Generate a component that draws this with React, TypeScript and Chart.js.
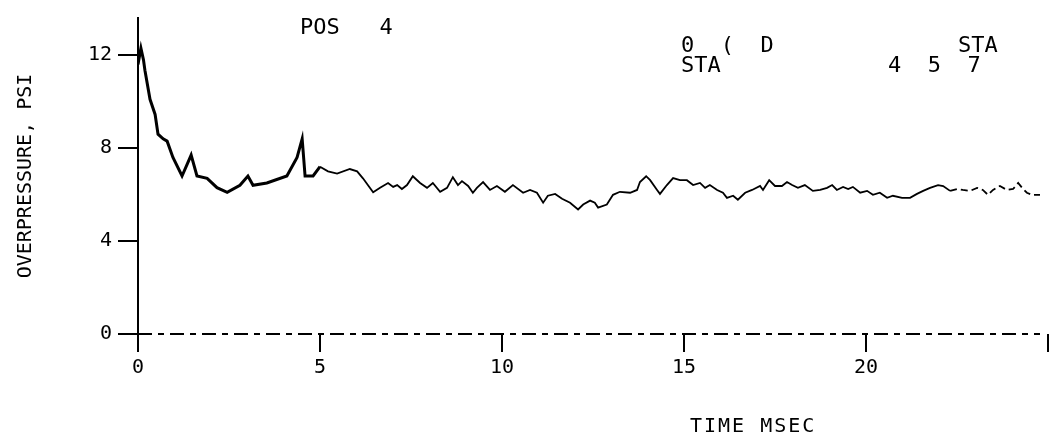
import React, { useEffect, useRef } from "react";
import { Chart, registerables } from "chart.js";

Chart.register(...registerables);

// Time (msec) of each sampled point of the trace
const timeMs = [
  0, 0.08, 0.15, 0.19, 0.33, 0.47, 0.55, 0.69, 0.8, 0.96,
  1.21, 1.46, 1.62, 1.9, 2.17, 2.45, 2.8, 3.02, 3.16, 3.54,
  4.09, 4.37, 4.51, 4.59, 4.81, 5.0, 5.22, 5.47, 5.82, 6.02,
  6.18, 6.46,
  6.65, 6.87, 7.01, 7.12, 7.25, 7.39, 7.55, 7.75, 7.94, 8.1,
  8.3, 8.49, 8.65, 8.79, 8.9, 9.07, 9.2, 9.31, 9.48, 9.67,
  9.86, 10.08, 10.3, 10.58, 10.77, 10.96, 11.13, 11.26, 11.46, 11.65,
  11.87, 12.09, 12.23, 12.42, 12.55, 12.64, 12.88, 13.05, 13.24, 13.52,
  13.71, 13.79, 13.96, 14.07, 14.26, 14.34, 14.53, 14.7, 14.89, 15.08,
  15.25, 15.44, 15.58, 15.71, 15.91, 16.07,
  16.18, 16.35, 16.48, 16.68, 16.87, 17.09, 17.17, 17.34, 17.5, 17.69,
  17.83, 17.97, 18.13, 18.32, 18.54, 18.74, 18.93, 19.07, 19.2, 19.37,
  19.51, 19.64, 19.84, 20.03, 20.19, 20.38, 20.58, 20.74, 20.99, 21.21,
  21.4, 21.57, 21.76, 21.98, 22.12, 22.31, 22.5, 22.66, 22.86, 23.05,
  23.21, 23.35, 23.49, 23.68, 23.87, 24.04, 24.18, 24.29, 24.42, 24.56,
  24.78,
];

// Overpressure (psi) at each of those times
const overpressurePsi = [
  11.6, 12.3, 11.8, 11.35, 10.1, 9.45, 8.6, 8.4, 8.3, 7.6,
  6.8, 7.7, 6.8, 6.7, 6.3, 6.1, 6.4, 6.8, 6.4, 6.5,
  6.8, 7.6, 8.4, 6.8, 6.8, 7.2, 7.0, 6.9, 7.1, 7.0,
  6.7, 6.1,
  6.29, 6.5, 6.33, 6.41, 6.24, 6.41, 6.79, 6.5, 6.29, 6.5,
  6.12, 6.29, 6.75, 6.41, 6.58, 6.37, 6.08, 6.29, 6.54, 6.2,
  6.37, 6.12, 6.41, 6.08, 6.2, 6.08, 5.65, 5.95, 6.03, 5.82,
  5.65, 5.36, 5.57, 5.74, 5.65, 5.44, 5.57, 5.99, 6.12, 6.08,
  6.2, 6.54, 6.79, 6.62, 6.2, 6.03, 6.41, 6.71, 6.62, 6.62,
  6.41, 6.5, 6.29, 6.41, 6.2, 6.08,
  5.86, 5.95, 5.78, 6.08, 6.2, 6.37, 6.2, 6.62, 6.37, 6.37,
  6.54, 6.41, 6.29, 6.41, 6.16, 6.2, 6.29, 6.41, 6.2, 6.33,
  6.24, 6.33, 6.08, 6.16, 5.99, 6.08, 5.86, 5.95, 5.86, 5.86,
  6.03, 6.16, 6.29, 6.41, 6.37, 6.16, 6.24, 6.2, 6.16, 6.29,
  6.2, 5.99, 6.2, 6.37, 6.2, 6.24, 6.5, 6.29, 6.08, 5.99,
  5.99,
];

const xTickValues = [0, 5, 10, 15, 20, 25];
const xTickLabels = ["0", "5", "10", "15", "20", ""];
const yTickValues = [0, 4, 8, 12];
const yTickLabels = ["0", "4", "8", "12"];

const plotTitle = "POS   4";
const xAxisTitle = "TIME MSEC";
const yAxisTitle = "OVERPRESSURE, PSI";
const headerLeft = ["0  (  D", "STA"];
const headerRight = ["STA", "4  5  7"];

const FONT = "'DejaVu Sans Mono', monospace";

const textPlugin = {
  id: "plotterText",
  beforeDatasetsDraw(chart: any) {
    // dashed x axis line, as on the plotter original
    const { ctx, chartArea } = chart;
    ctx.save();
    ctx.strokeStyle = "#000";
    ctx.lineWidth = 2;
    ctx.setLineDash([14, 6, 6, 6]);
    ctx.beginPath();
    ctx.moveTo(chartArea.left, chartArea.bottom);
    ctx.lineTo(chartArea.right - 8, chartArea.bottom);
    ctx.stroke();
    ctx.restore();
  },
  afterDraw(chart: any) {
    const ctx = chart.ctx;
    ctx.save();
    ctx.fillStyle = "#000";
    ctx.textBaseline = "alphabetic";
    ctx.textAlign = "left";
    ctx.font = `22px ${FONT}`;
    ctx.fillText(plotTitle, 300, 34);
    ctx.fillText(headerLeft[0], 681, 52);
    ctx.fillText(headerLeft[1], 681, 72);
    ctx.fillText(headerRight[0], 958, 52);
    ctx.fillText(headerRight[1], 888, 72);
    ctx.font = `20px ${FONT}`;
    (ctx as any).letterSpacing = "2px";
    ctx.fillText(xAxisTitle, 690, 432);
    ctx.restore();
  },
};

export default function App() {
  const ref = useRef<HTMLCanvasElement>(null);

  useEffect(() => {
    const points = timeMs.map((t, i) => ({ x: t, y: overpressurePsi[i] }));
    const chart = new Chart(ref.current as HTMLCanvasElement, {
      type: "line",
      data: {
        datasets: [
          {
            data: points,
            borderColor: "#000",
            borderWidth: 2,
            pointRadius: 0,
            tension: 0,
            fill: false,
            segment: {
              borderWidth: (c: any) => (c.p0.parsed.x < 5 ? 3 : 1.8),
              borderDash: (c: any) => (c.p0.parsed.x > 22.2 ? [7, 4] : undefined),
            },
          } as any,
        ],
      },
      options: {
        responsive: false,
        animation: false,
        devicePixelRatio: 1,
        layout: { padding: { top: 12, right: 16, left: 0, bottom: 0 } },
        plugins: {
          legend: { display: false },
          tooltip: { enabled: false },
          title: { display: false },
        },
        scales: {
          x: {
            type: "linear",
            min: 0,
            max: 25,
            afterBuildTicks: (s: any) => {
              s.ticks = xTickValues.map((v) => ({ value: v }));
            },
            afterFit: (s: any) => {
              s.height = 103;
            },
            ticks: {
              autoSkip: false,
              maxRotation: 0,
              padding: 4,
              color: "#000",
              font: { family: FONT, size: 20 },
              callback: (v: any) => xTickLabels[xTickValues.indexOf(Number(v))] ?? "",
            },
            grid: { drawOnChartArea: false, tickLength: 18, color: "#000", lineWidth: 2 },
            border: { display: false },
          },
          y: {
            type: "linear",
            min: 0,
            max: 13.6,
            afterBuildTicks: (s: any) => {
              s.ticks = yTickValues.map((v) => ({ value: v }));
            },
            afterFit: (s: any) => {
              s.width = 138;
            },
            ticks: {
              padding: 6,
              color: "#000",
              font: { family: FONT, size: 20 },
              callback: (v: any) => yTickLabels[yTickValues.indexOf(Number(v))] ?? "",
            },
            grid: { drawOnChartArea: false, tickLength: 20, color: "#000", lineWidth: 2 },
            border: { display: true, color: "#000", width: 2 },
            title: {
              display: true,
              text: yAxisTitle,
              color: "#000",
              font: { family: FONT, size: 20 },
              padding: { top: 14, bottom: 0 },
            },
          },
        },
      } as any,
      plugins: [textPlugin],
    });
    return () => chart.destroy();
  }, []);

  return (
    <div
      style={{
        position: "fixed",
        left: 0,
        top: 0,
        width: 1064,
        height: 437,
        background: "#fff",
      }}
    >
      <canvas ref={ref} width={1064} height={437} style={{ display: "block" }} />
    </div>
  );
}
